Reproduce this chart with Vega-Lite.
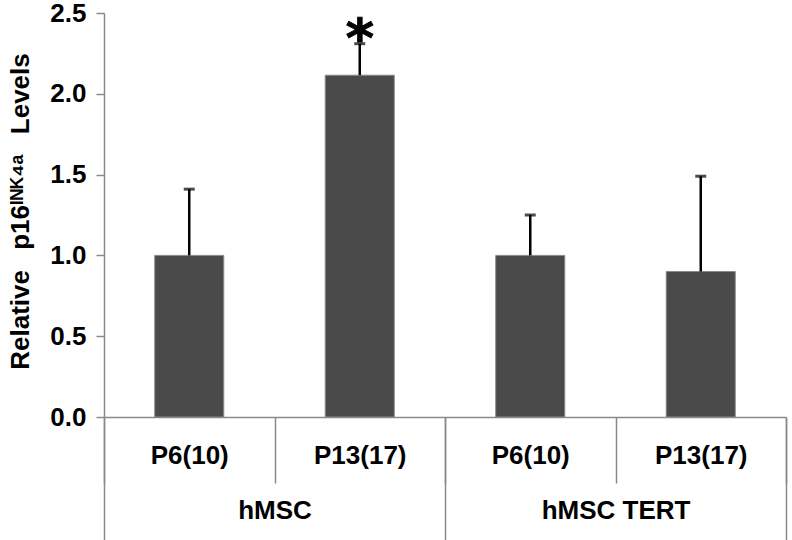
{
  "$schema": "https://vega.github.io/schema/vega-lite/v6.json",
  "width": 682,
  "height": 404,
  "autosize": {"type": "none"},
  "padding": {"left": 104, "top": 13, "right": 6, "bottom": 123},
  "background": "white",
  "config": {"view": {"stroke": null}},
  "data": {
    "values": [
      {"group": "hMSC", "sub": "P6(10)", "key": "hMSC|P6(10)", "value": 1.0, "err": 1.41, "sig": ""},
      {"group": "hMSC", "sub": "P13(17)", "key": "hMSC|P13(17)", "value": 2.115, "err": 2.31, "sig": "*"},
      {"group": "hMSC TERT", "sub": "P6(10)", "key": "hMSC TERT|P6(10)", "value": 1.0, "err": 1.25, "sig": ""},
      {"group": "hMSC TERT", "sub": "P13(17)", "key": "hMSC TERT|P13(17)", "value": 0.9, "err": 1.49, "sig": ""}
    ]
  },
  "layer": [
    {
      "encoding": {
        "x": {
          "field": "key",
          "type": "nominal",
          "sort": null,
          "scale": {"paddingInner": 0, "paddingOuter": 0},
          "axis": {
            "title": null,
            "labelExpr": "split(datum.label, '|')[1]",
            "labelAngle": 0,
            "labelFont": "Liberation Sans",
            "labelFontWeight": "bold",
            "labelFontSize": 26,
            "labelColor": "#000000",
            "labelPadding": -41,
            "tickBand": "extent",
            "tickSize": 66,
            "tickColor": "#8a8a8a",
            "tickWidth": 1.5,
            "domainColor": "#8a8a8a",
            "domainWidth": 1.5
          }
        }
      },
      "layer": [
        {
          "mark": {"type": "bar", "width": {"band": 0.405}, "color": "#4a4a4a", "stroke": "#8a8a8a", "strokeWidth": 1},
          "encoding": {
            "y": {
              "field": "value",
              "type": "quantitative",
              "scale": {"domain": [0, 2.5], "nice": false},
              "axis": {
                "title": "Relative\u2002 p16ᴵᴺᴷ⁴ᵃ\u2002 Levels",
                "titleFont": "Liberation Sans",
                "titleFontWeight": "bold",
                "titleFontSize": 26,
                "titleColor": "#000000",
                "titlePadding": 16,
                "titleY": 198,
                "values": [0, 0.5, 1, 1.5, 2, 2.5],
                "format": ".1f",
                "labelFont": "Liberation Sans",
                "labelFontWeight": "bold",
                "labelFontSize": 26,
                "labelColor": "#000000",
                "labelPadding": 10,
                "tickSize": 8,
                "tickColor": "#8a8a8a",
                "tickWidth": 1.5,
                "domainColor": "#8a8a8a",
                "domainWidth": 1.5,
                "grid": false
              }
            }
          }
        },
        {
          "mark": {"type": "rule", "color": "#000000", "strokeWidth": 2.5},
          "encoding": {
            "y": {"field": "value", "type": "quantitative"},
            "y2": {"field": "err"}
          }
        },
        {
          "mark": {"type": "tick", "color": "#000000", "size": 11, "thickness": 3},
          "encoding": {
            "y": {"field": "err", "type": "quantitative"}
          }
        },
        {
          "mark": {"type": "text", "font": "DejaVu Sans", "fontWeight": "bold", "fontSize": 54, "baseline": "alphabetic", "dy": 13, "color": "#000000", "stroke": "#000000", "strokeWidth": 1},
          "encoding": {
            "y": {"field": "err", "type": "quantitative"},
            "text": {"field": "sig"}
          }
        }
      ]
    },
    {
      "mark": {"type": "rule", "opacity": 0},
      "encoding": {
        "x": {
          "field": "group",
          "type": "nominal",
          "sort": null,
          "scale": {"paddingInner": 0, "paddingOuter": 0},
          "axis": {
            "title": null,
            "orient": "bottom",
            "labelAngle": 0,
            "labelFont": "Liberation Sans",
            "labelFontWeight": "bold",
            "labelFontSize": 26,
            "labelColor": "#000000",
            "labelPadding": -43,
            "tickBand": "extent",
            "tickSize": 123,
            "tickColor": "#8a8a8a",
            "tickWidth": 1.5,
            "domain": false
          }
        }
      }
    }
  ],
  "resolve": {"scale": {"x": "independent"}, "axis": {"x": "independent"}}
}
